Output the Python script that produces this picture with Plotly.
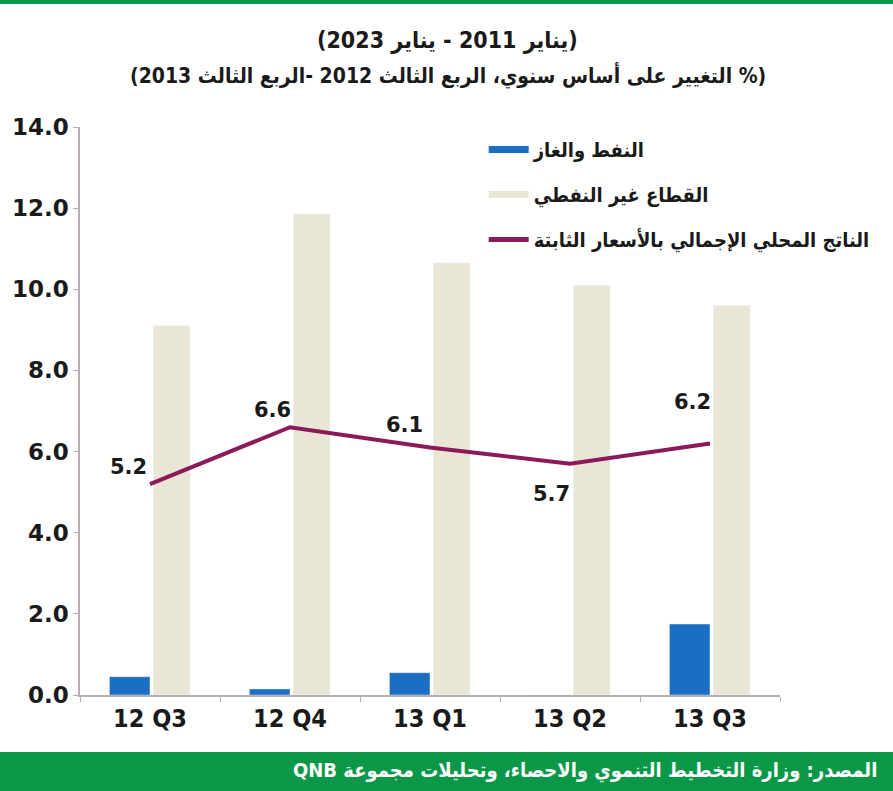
import plotly.graph_objects as go

# ---- data ----
quarters = ["12 Q3", "12 Q4", "13 Q1", "13 Q2", "13 Q3"]
oil_gas = [0.45, 0.15, 0.55, 0.0, 1.75]
non_oil = [9.1, 11.85, 10.65, 10.1, 9.6]
gdp_real = [5.2, 6.6, 6.1, 5.7, 6.2]
gdp_labels = ["5.2", "6.6", "6.1", "5.7", "6.2"]
y_ticks = [0, 2, 4, 6, 8, 10, 12, 14]
y_tick_text = ["0.0", "2.0", "4.0", "6.0", "8.0", "10.0", "12.0", "14.0"]

name_oil = "النفط والغاز"
name_non_oil = "القطاع غير النفطي"
name_gdp = "الناتج المحلي الإجمالي بالأسعار الثابتة"
title_l1 = "(يناير 2011 - يناير 2023)"
title_l2 = "(% التغيير على أساس سنوي، الربع الثالث 2012 -الربع الثالث 2013)"
source = "المصدر: وزارة التخطيط التنموي والاحصاء، وتحليلات مجموعة QNB"

RLE, PDF = "\u202B", "\u202C"
def rtl(s):
    return RLE + s + PDF

# ---- style ----
BLUE = "#1a6ec4"
BEIGE = "#e9e6d6"
MAROON = "#8c1a58"
GREEN = "#0b9748"
AXIS = "#b8aeae"
AR_FONT = "DejaVu Sans Condensed, DejaVu Sans, sans-serif"
NUM_FONT = "DejaVu Sans, sans-serif"
CAT_FONT = "Liberation Sans Narrow, DejaVu Sans Condensed, Arial Narrow, sans-serif"

fig = go.Figure()

fig.add_trace(go.Bar(
    x=quarters, y=oil_gas, name=rtl(name_oil), marker_color=BLUE,
    width=0.29, offset=-0.29, showlegend=False, hoverinfo="x+y",
))
fig.add_trace(go.Bar(
    x=quarters, y=non_oil, name=rtl(name_non_oil), marker_color=BEIGE,
    width=0.26, offset=0.025, showlegend=False, hoverinfo="x+y",
))
fig.add_trace(go.Scatter(
    x=quarters, y=gdp_real, mode="lines", name=rtl(name_gdp),
    line=dict(color=MAROON, width=4), showlegend=False,
))

# legend entries (drawn as short thick bars like the reference)
for nm, col, lg in [(name_oil, BLUE, "a"), (name_non_oil, BEIGE, "b"), (name_gdp, MAROON, "c")]:
    fig.add_trace(go.Scatter(
        x=[None], y=[None], mode="lines", name=rtl(nm), legendgroup=lg,
        line=dict(color=col, width=7 if lg != "c" else 5),
    ))

# value labels on the GDP line
shifts = [(-22, 17), (-18, 17), (-26, 23), (-19, -30), (-18, 41)]
for q, v, t, (dx, dy) in zip(quarters, gdp_real, gdp_labels, shifts):
    fig.add_annotation(
        x=q, y=v, text=t, showarrow=False, xshift=dx, yshift=dy,
        font=dict(family=NUM_FONT, size=21, color="#1a1a1a", weight="bold"),
    )

# top green rule
fig.add_shape(type="rect", xref="paper", yref="paper", x0=-0.2, x1=1.3,
              y0=1.2165, y1=1.35, fillcolor=GREEN, line_width=0, layer="above")
# bottom green band
fig.add_shape(type="rect", xref="paper", yref="paper", x0=-0.2, x1=1.3,
              y0=-0.30, y1=-0.1004, fillcolor=GREEN, line_width=0, layer="above")
fig.add_annotation(
    xref="paper", yref="paper", x=1.142, y=-0.1338, xanchor="right", yanchor="middle",
    text=rtl(source), showarrow=False,
    font=dict(family=AR_FONT, size=20, color="white", weight="bold"),
)

# title lines
fig.add_annotation(
    xref="paper", yref="paper", x=(446 - 76) / 704, y=(695 - 40) / 568,
    xanchor="center", yanchor="middle", text=rtl(title_l1), showarrow=False,
    font=dict(family=AR_FONT, size=23, color="#1a1a1a", weight="bold"),
)
fig.add_annotation(
    xref="paper", yref="paper", x=(446 - 76) / 704, y=(695 - 75) / 568,
    xanchor="center", yanchor="middle", text=rtl(title_l2), showarrow=False,
    font=dict(family=AR_FONT, size=21, color="#1a1a1a", weight="bold"),
)

fig.update_layout(
    width=893, height=791,
    margin=dict(l=76, r=113, t=127, b=96),
    paper_bgcolor="white", plot_bgcolor="white",
    barmode="overlay",
    showlegend=True,
    legend=dict(
        x=(482 - 76) / 704, y=(695 - 130) / 568, xanchor="left", yanchor="top",
        font=dict(family=AR_FONT, size=20, color="#1a1a1a", weight="bold"),
        bgcolor="rgba(0,0,0,0)", tracegroupgap=16, itemwidth=40,
        traceorder="grouped",
    ),
    xaxis=dict(
        type="category", categoryorder="array", categoryarray=quarters,
        showline=True, linecolor=AXIS, linewidth=1.5,
        ticks="outside", tickson="boundaries", ticklen=5, tickcolor=AXIS,
        showgrid=False, zeroline=False,
        tickfont=dict(family=CAT_FONT, size=25, color="#1a1a1a", weight="bold"),
    ),
    yaxis=dict(
        range=[0, 14], tickvals=y_ticks, ticktext=y_tick_text,
        showline=True, linecolor=AXIS, linewidth=1.5,
        ticks="outside", ticklen=5, tickcolor=AXIS,
        showgrid=False, zeroline=False,
        tickfont=dict(family=NUM_FONT, size=23, color="#1a1a1a", weight="bold"),
    ),
)

fig.write_html(
    "out.html",
    config={"displayModeBar": False},
    post_script="document.body.style.margin='0';document.body.style.overflow='hidden';",
)
